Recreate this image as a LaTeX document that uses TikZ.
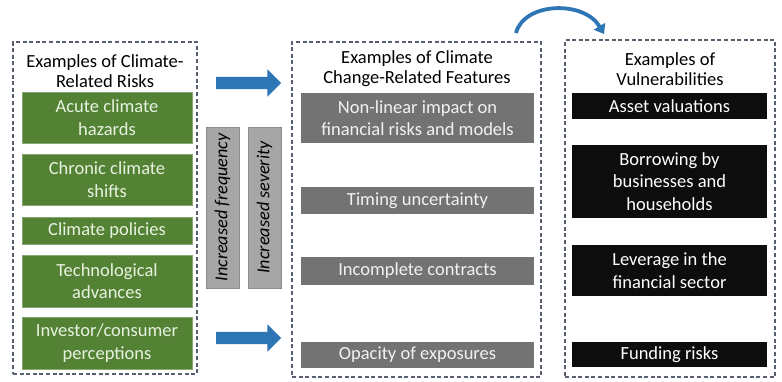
\documentclass[tikz,border=0pt]{standalone}
\usepackage{fontspec}
\setmainfont{Carlito}
\usetikzlibrary{shapes.arrows,arrows.meta}
\definecolor{grn}{HTML}{548235}
\definecolor{grntxt}{HTML}{E8F2E0}
\definecolor{dgray}{HTML}{737373}
\definecolor{lgray}{HTML}{A6A6A6}
\definecolor{blk}{HTML}{0D0D0D}
\definecolor{blu}{HTML}{2E75B6}
\definecolor{dash}{HTML}{56606E}
\tikzset{
  panel/.style={draw=dash, dash pattern=on 4pt off 2.6pt, line width=1.3pt, inner sep=0pt},
  ttl/.style={align=center, font=\fontsize{18.5}{20}\selectfont, text=black},
  boxbase/.style={inner sep=0pt, align=center, font=\fontsize{18.5}{22.5}\selectfont},
  gbox/.style={boxbase, fill=grn, draw=grn!70!white, line width=0.6pt, text=grntxt, minimum width=170pt},
  mbox/.style={boxbase, fill=dgray, text=white!95!black, minimum width=233pt},
  kbox/.style={boxbase, fill=blk, text=white, minimum width=195pt},
  vbar/.style={boxbase, fill=lgray, draw=lgray!85!black, line width=0.5pt, rotate=90, minimum width=161pt, minimum height=33pt, font=\fontsize{18.2}{20}\selectfont\itshape, text=black},
  barrow/.style={single arrow, fill=blu, draw=none, inner sep=6pt, minimum height=65pt, minimum width=27pt, single arrow head extend=7.5pt},
  curvearrow/.style={draw=blu, line width=3.8pt, -{Triangle[length=9pt,width=13pt]}}
}
\begin{document}
\begin{tikzpicture}[x=1pt,y=-1pt]
\useasboundingbox (0,0) rectangle (782,381);
% panels
\node[panel, minimum width=184pt, minimum height=332pt] (pl) at (105,208) {};
\node[panel, minimum width=249pt, minimum height=335pt] (pm) at (416.5,209.5) {};
\node[panel, minimum width=210pt, minimum height=337pt] (pr) at (670,208.5) {};
% titles
\node[ttl] (tl) at (105,71.5) {Examples of Climate-\\Related Risks};
\node[ttl] (tm) at (417,68.5) {Examples of Climate\\Change-Related Features};
\node[ttl] (tr) at (670,69.5) {Examples of\\Vulnerabilities};
% green boxes
\node[gbox, minimum height=51pt] (g1) at (107,117.5) {Acute climate\\hazards};
\node[gbox, minimum height=51pt] (g2) at (107,179.5) {Chronic climate\\shifts};
\node[gbox, minimum height=27pt] (g3) at (107,230.5) {Climate policies};
\node[gbox, minimum height=52pt] (g4) at (107,281) {Technological\\advances};
\node[gbox, minimum height=52pt] (g5) at (107,343) {Investor/consumer\\perceptions};
% gray boxes
\node[mbox, minimum height=50pt] (m1) at (417.5,118) {Non-linear impact on\\financial risks and models};
\node[mbox, minimum height=27pt] (m2) at (417.5,200.5) {Timing uncertainty};
\node[mbox, minimum height=28pt] (m3) at (417.5,271) {Incomplete contracts};
\node[mbox, minimum height=26pt] (m4) at (417.5,355) {Opacity of exposures};
% black boxes
\node[kbox, minimum height=26pt] (k1) at (669.5,106) {Asset valuations};
\node[kbox, minimum height=73pt] (k2) at (669.5,181.5) {Borrowing by\\businesses and\\households};
\node[kbox, minimum height=51pt] (k3) at (669.5,270.5) {Leverage in the\\financial sector};
\node[kbox, minimum height=25pt] (k4) at (669.5,354.5) {Funding risks};
% vertical bars
\node[vbar] (v1) at (222.5,207.5) {Increased frequency};
\node[vbar] (v2) at (264.5,207.5) {Increased severity};
% block arrows
\node[barrow] (a1) at (245.5,83) {};
\node[barrow] (a2) at (245.5,338) {};
% curved arrow
\coordinate (c1) at (516,33);
\coordinate (c2) at (604,34);
\draw[curvearrow] (c1) .. controls (524,2) and (584,0) .. (c2);
\end{tikzpicture}
\end{document}
